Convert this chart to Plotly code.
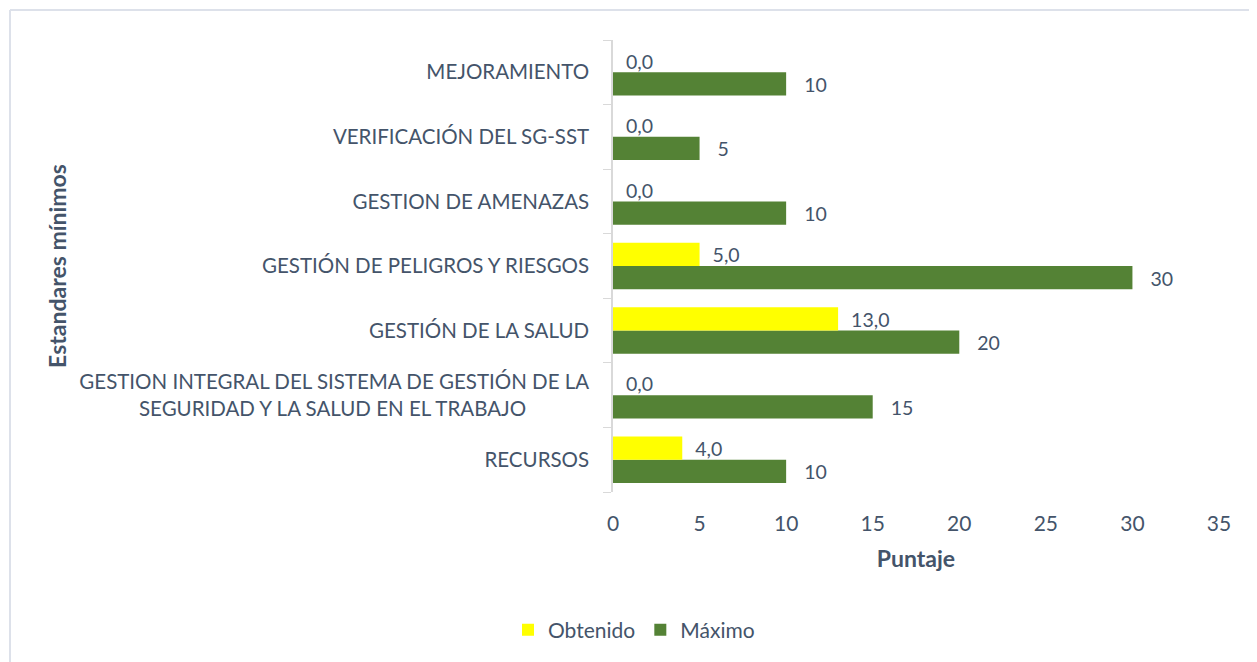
import plotly.graph_objects as go

# Data (bottom to top, as drawn)
categories = [
    "RECURSOS",
    "GESTION INTEGRAL DEL SISTEMA DE GESTIÓN DE LA<br>SEGURIDAD Y LA SALUD EN EL TRABAJO" + "\u00a0" * 12,
    "GESTIÓN DE LA SALUD",
    "GESTIÓN DE PELIGROS Y RIESGOS",
    "GESTION DE AMENAZAS",
    "VERIFICACIÓN DEL SG-SST",
    "MEJORAMIENTO",
]
obtenido = [4, 0, 13, 5, 0, 0, 0]
maximo = [10, 15, 20, 30, 10, 5, 10]
x_ticks = [0, 5, 10, 15, 20, 25, 30, 35]

FONT = "Lato, Calibri, Carlito, sans-serif"
TXT = "#44546A"
FS = 21
FS_Y = 20.5
FS_T = 23
PAD = "\u00a0" * 3

fig = go.Figure()
fig.add_trace(go.Bar(
    y=categories, x=maximo, orientation="h", name="Máximo",
    marker=dict(color="#548235", line=dict(width=0)),
    texttemplate=PAD + "%{x:.0f}", textposition="outside",
    textfont=dict(family=FONT, size=FS, color=TXT),
    cliponaxis=False, legendrank=2,
))
fig.add_trace(go.Bar(
    y=categories, x=obtenido, orientation="h", name="Obtenido",
    marker=dict(color="#FFFF00", line=dict(width=0)),
    texttemplate=PAD[:-1] + "%{x:.1f}", textposition="outside",
    textfont=dict(family=FONT, size=FS, color=TXT),
    cliponaxis=False, legendrank=1,
))

# page body has an 8px offset; figure coords = page coords - 8
OFF = 8
W, H = 1257 - OFF, 662 - OFF
L, T = 613 - OFF, 40 - OFF
R = W - (1219 - OFF)
B = H - (492 - OFF)
pw, ph = W - L - R, H - T - B

def px_x(px):
    return (px - OFF - L) / pw

def px_y(py):
    return (H - B - (py - OFF)) / ph

border = dict(color="#DDE1EA", width=2)
fig.add_shape(type="line", xref="paper", yref="paper",
              x0=px_x(10), x1=px_x(1262), y0=px_y(10), y1=px_y(10), line=border)
fig.add_shape(type="line", xref="paper", yref="paper",
              x0=px_x(10), x1=px_x(10), y0=px_y(10), y1=px_y(670), line=border)

fig.update_layout(
    width=W, height=H,
    margin=dict(l=L, r=R, t=T, b=B),
    barmode="group", bargap=0.28, bargroupgap=0,
    separators=",.",
    paper_bgcolor="white", plot_bgcolor="white",
    font=dict(family=FONT, size=FS, color=TXT),
    showlegend=True,
    legend=dict(orientation="h", x=px_x(634), xanchor="center",
                y=px_y(630), yanchor="middle",
                font=dict(family=FONT, size=FS, color=TXT),
                itemsizing="constant"),
    xaxis=dict(range=[0, 35], tickvals=x_ticks, showgrid=False, zeroline=False,
               showline=False, ticks="", ticklabelstandoff=17,
               tickfont=dict(family=FONT, size=FS, color=TXT),
               title=dict(text="<b>Puntaje</b>", standoff=16,
                          font=dict(family=FONT, size=FS_T, color=TXT))),
    yaxis=dict(showgrid=False, zeroline=False, showline=True, linecolor="#D9D9D9",
               linewidth=1.5, ticks="outside", ticklen=8, tickcolor="#D9D9D9",
               tickson="boundaries", ticklabelstandoff=18,
               tickfont=dict(family=FONT, size=FS_Y, color=TXT),
               title=dict(text="<b>Estandares mínimos</b>", standoff=6,
                          font=dict(family=FONT, size=FS_T, color=TXT))),
)

fig.write_html("out.html")
